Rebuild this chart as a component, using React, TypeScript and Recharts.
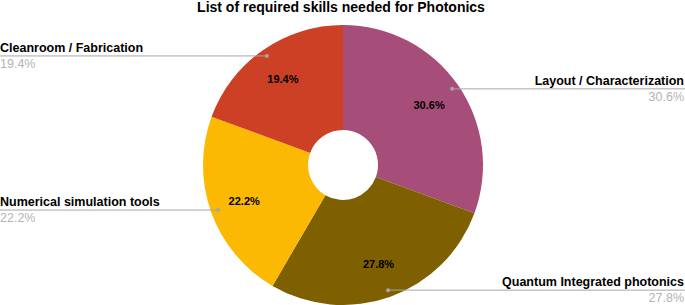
import { PieChart, Pie, Cell } from "recharts";

const skills = [
  "Layout / Characterization",
  "Quantum Integrated photonics",
  "Numerical simulation tools",
  "Cleanroom / Fabrication",
];
const shares = [30.6, 27.8, 22.2, 19.4];
const colors = ["#A64D79", "#7F6000", "#FBB903", "#CC4125"];

const data = skills.map((name, i) => ({ name, value: shares[i] }));

const RAD = Math.PI / 180;
const W = 685;

function SliceLabel(props: any) {
  const { cx, cy, midAngle, outerRadius, name, value } = props;
  const cos = Math.cos(-midAngle * RAD);
  const sin = Math.sin(-midAngle * RAD);
  const inR = outerRadius * 0.75;
  const dotR = outerRadius * 0.95;
  const ix = cx + inR * cos;
  const iy = cy + inR * sin;
  const dx = cx + dotR * cos;
  const dy = cy + dotR * sin;
  const right = cos >= 0;
  const pct = `${value.toFixed(1)}%`;
  return (
    <g>
      <text
        x={ix}
        y={iy}
        textAnchor="middle"
        dominantBaseline="central"
        fontSize={11}
        fontWeight="bold"
        fill="#000"
      >
        {pct}
      </text>
      <line
        x1={dx}
        y1={dy}
        x2={right ? W : 0}
        y2={dy}
        stroke="#a6a6a6"
        strokeWidth={1}
      />
      <circle cx={dx} cy={dy} r={2} fill="#a6a6a6" />
      <text
        x={right ? W - 1 : 0}
        y={dy - 4}
        textAnchor={right ? "end" : "start"}
        fontSize={12.5}
        fontWeight="bold"
        fill="#000"
      >
        {name}
      </text>
      <text
        x={right ? W - 1 : 0}
        y={dy + 12}
        textAnchor={right ? "end" : "start"}
        fontSize={12.5}
        fill="#b3b3b3"
      >
        {pct}
      </text>
    </g>
  );
}

export default function App() {
  return (
    <div
      style={{
        position: "absolute",
        left: 0,
        top: 0,
        width: W,
        height: 305,
        fontFamily: "Arial, 'Liberation Sans', sans-serif",
        background: "#fff",
      }}
    >
      <PieChart width={W} height={305} margin={{ top: 0, right: 0, bottom: 0, left: 0 }}>
        <text
          x={341}
          y={12}
          textAnchor="middle"
          fontSize={14}
          fontWeight="bold"
          fill="#000"
        >
          List of required skills needed for Photonics
        </text>
        <Pie
          data={data}
          dataKey="value"
          nameKey="name"
          cx={343}
          cy={165}
          innerRadius={35}
          outerRadius={140}
          startAngle={90}
          endAngle={-270}
          stroke="none"
          labelLine={false}
          label={SliceLabel}
          isAnimationActive={false}
        >
          {data.map((d, i) => (
            <Cell key={d.name} fill={colors[i]} />
          ))}
        </Pie>
      </PieChart>
    </div>
  );
}
